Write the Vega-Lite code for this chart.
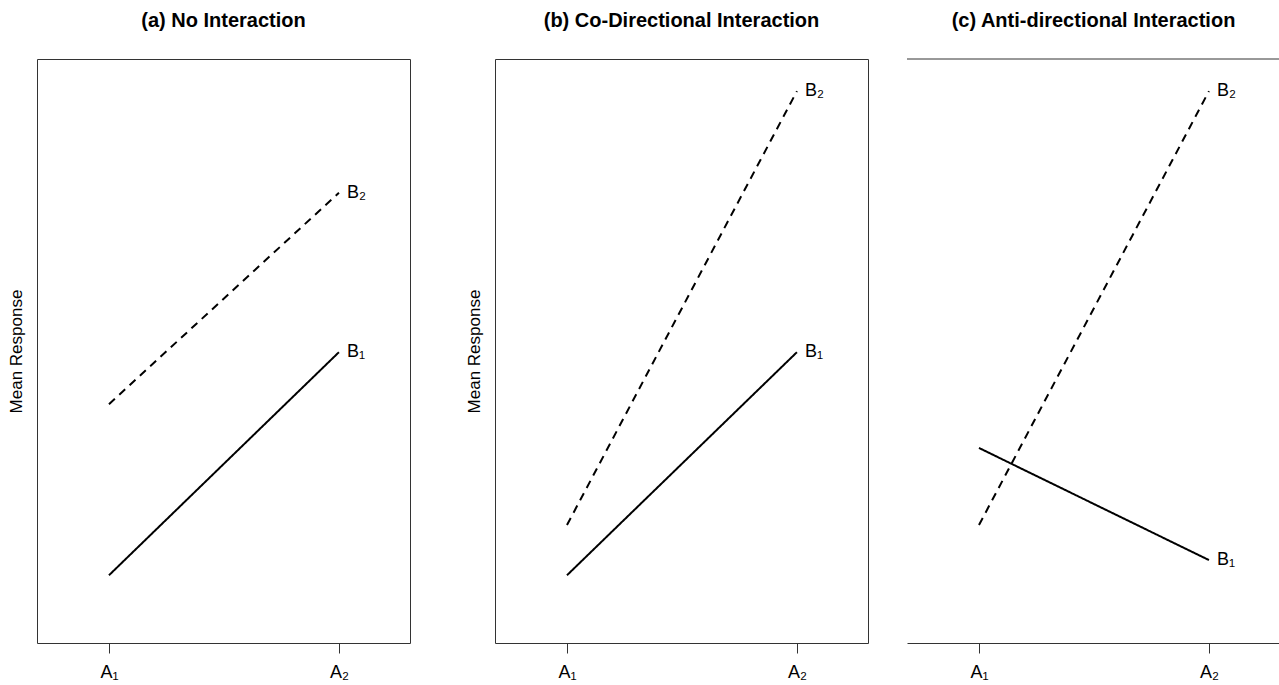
{
  "$schema": "https://vega.github.io/schema/vega-lite/v6.json",
  "padding": {"left": 6, "top": 10, "right": 0, "bottom": 0},
  "background": "white",
  "config": {
    "font": "Liberation Sans",
    "view": {"stroke": "#333", "strokeWidth": 1},
    "title": {"fontSize": 20, "fontWeight": "bold", "font": "Liberation Sans", "color": "black", "offset": 28, "anchor": "middle", "frame": "group"},
    "axis": {"grid": false, "labelFont": "Liberation Sans", "titleFont": "Liberation Sans"}
  },
  "datasets": {
    "d": [
      {"panel": "a", "A": 1, "series": "B₁", "v": 1.16},
      {"panel": "a", "A": 2, "series": "B₁", "v": 4.98},
      {"panel": "a", "A": 1, "series": "B₂", "v": 4.09},
      {"panel": "a", "A": 2, "series": "B₂", "v": 7.71},
      {"panel": "b", "A": 1, "series": "B₁", "v": 1.16},
      {"panel": "b", "A": 2, "series": "B₁", "v": 4.98},
      {"panel": "b", "A": 1, "series": "B₂", "v": 2.02},
      {"panel": "b", "A": 2, "series": "B₂", "v": 9.45},
      {"panel": "c", "A": 1, "series": "B₁", "v": 3.34},
      {"panel": "c", "A": 2, "series": "B₁", "v": 1.42},
      {"panel": "c", "A": 1, "series": "B₂", "v": 2.02},
      {"panel": "c", "A": 2, "series": "B₂", "v": 9.45}
    ]
  },
  "hconcat": [
    {
      "hconcat": [
        {
          "width": 373, "height": 584,
          "title": {"text": "(a) No Interaction"},
          "data": {"name": "d"},
          "transform": [{"filter": "datum.panel == 'a'"}],
          "layer": [
            {
              "mark": {"type": "line", "color": "black", "strokeWidth": 2},
              "encoding": {
                "x": {"field": "A", "type": "quantitative", "scale": {"domain": [0.687, 2.309], "nice": false, "zero": false},
                  "axis": {"values": [1, 2], "labelExpr": "datum.value == 1 ? 'A₁' : 'A₂'", "title": null, "domain": false, "tickSize": 10, "tickColor": "#333", "labelFontSize": 18, "labelPadding": 10, "labelColor": "black"}},
                "y": {"field": "v", "type": "quantitative", "scale": {"domain": [0, 10], "nice": false, "zero": false},
                  "axis": {"title": "Mean Response", "titleFontSize": 17, "titleFontWeight": "normal", "titleColor": "black", "titlePadding": 12, "ticks": false, "labels": false, "domain": false}},
                "strokeDash": {"field": "series", "type": "nominal", "scale": {"domain": ["B₁", "B₂"], "range": [[1, 0], [8, 6]]}, "legend": null}
              }
            },
            {
              "transform": [{"filter": "datum.A == 2"}],
              "mark": {"type": "text", "align": "left", "baseline": "middle", "dx": 8, "fontSize": 18, "color": "black"},
              "encoding": {
                "x": {"field": "A", "type": "quantitative"},
                "y": {"field": "v", "type": "quantitative"},
                "text": {"field": "series"}
              }
            }
          ]
        },
        {
          "width": 373, "height": 584,
          "title": {"text": "(b) Co-Directional Interaction"},
          "data": {"name": "d"},
          "transform": [{"filter": "datum.panel == 'b'"}],
          "layer": [
            {
              "mark": {"type": "line", "color": "black", "strokeWidth": 2},
              "encoding": {
                "x": {"field": "A", "type": "quantitative", "scale": {"domain": [0.687, 2.309], "nice": false, "zero": false},
                  "axis": {"values": [1, 2], "labelExpr": "datum.value == 1 ? 'A₁' : 'A₂'", "title": null, "domain": false, "tickSize": 10, "tickColor": "#333", "labelFontSize": 18, "labelPadding": 10, "labelColor": "black"}},
                "y": {"field": "v", "type": "quantitative", "scale": {"domain": [0, 10], "nice": false, "zero": false},
                  "axis": {"title": "Mean Response", "titleFontSize": 17, "titleFontWeight": "normal", "titleColor": "black", "titlePadding": 12, "ticks": false, "labels": false, "domain": false}},
                "strokeDash": {"field": "series", "type": "nominal", "scale": {"domain": ["B₁", "B₂"], "range": [[1, 0], [8, 6]]}, "legend": null}
              }
            },
            {
              "transform": [{"filter": "datum.A == 2"}],
              "mark": {"type": "text", "align": "left", "baseline": "middle", "dx": 8, "fontSize": 18, "color": "black"},
              "encoding": {
                "x": {"field": "A", "type": "quantitative"},
                "y": {"field": "v", "type": "quantitative"},
                "text": {"field": "series"}
              }
            }
          ]
        }
      ],
      "spacing": 85,
      "bounds": "flush"
    },
    {
      "width": 373, "height": 584,
      "view": {"stroke": null},
      "title": {"text": "(c) Anti-directional Interaction"},
      "layer": [
        {
          "data": {"name": "d"},
          "transform": [{"filter": "datum.panel == 'c'"}],
          "mark": {"type": "line", "color": "black", "strokeWidth": 2},
          "encoding": {
            "x": {"field": "A", "type": "quantitative", "scale": {"domain": [0.687, 2.309], "nice": false, "zero": false},
              "axis": {"values": [1, 2], "labelExpr": "datum.value == 1 ? 'A₁' : 'A₂'", "title": null, "domain": true, "domainColor": "#333", "tickSize": 10, "tickColor": "#333", "labelFontSize": 18, "labelPadding": 10, "labelColor": "black"}},
            "y": {"field": "v", "type": "quantitative", "scale": {"domain": [0, 10], "nice": false, "zero": false}, "axis": null},
            "strokeDash": {"field": "series", "type": "nominal", "scale": {"domain": ["B₁", "B₂"], "range": [[1, 0], [8, 6]]}, "legend": null}
          }
        },
        {
          "data": {"name": "d"},
          "transform": [{"filter": "datum.panel == 'c' && datum.A == 2"}],
          "mark": {"type": "text", "align": "left", "baseline": "middle", "dx": 8, "fontSize": 18, "color": "black"},
          "encoding": {
            "x": {"field": "A", "type": "quantitative"},
            "y": {"field": "v", "type": "quantitative"},
            "text": {"field": "series"}
          }
        },
        {
          "data": {"values": [{"top": 10}]},
          "mark": {"type": "rule", "color": "#333", "strokeWidth": 1},
          "encoding": {"y": {"field": "top", "type": "quantitative"}}
        }
      ]
    }
  ],
  "spacing": 37
}
